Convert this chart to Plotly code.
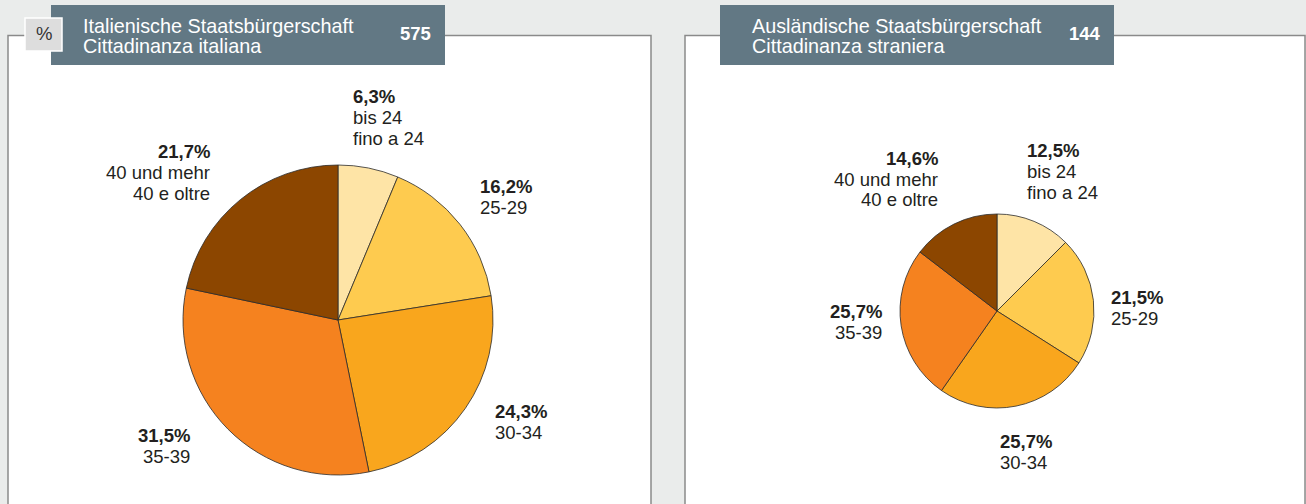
import plotly.graph_objects as go

W, H = 1306, 504

categories_de = ["bis 24", "25-29", "30-34", "35-39", "40 und mehr"]
categories_it = ["fino a 24", "", "", "", "40 e oltre"]
ital_values = [6.3, 16.2, 24.3, 31.5, 21.7]
ausl_values = [12.5, 21.5, 25.7, 25.7, 14.6]
ital_label_txt = ["6,3%", "16,2%", "24,3%", "31,5%", "21,7%"]
ausl_label_txt = ["12,5%", "21,5%", "25,7%", "25,7%", "14,6%"]
titles_de = ["Italienische Staatsbürgerschaft", "Ausländische Staatsbürgerschaft"]
titles_it = ["Cittadinanza italiana", "Cittadinanza straniera"]
totals = ["575", "144"]

colors = ["#fee4a6", "#fecb4f", "#f9a61d", "#f5821f", "#8c4600"]
FONT = "Liberation Sans, Arial, sans-serif"
TXT = "#231f20"
FS = 18.5
HFS = 19.8
LINE = 21
PAD = 2.5


def px(x):
    return x / W


def py(y):
    return 1 - y / H


fig = go.Figure()


def add_pie(values, cx, cy, r):
    fig.add_trace(go.Pie(
        values=values, labels=categories_de, sort=False, direction="clockwise",
        rotation=0, textinfo="none", hoverinfo="label+percent",
        marker=dict(colors=colors, line=dict(color="#2b2b2b", width=0.8)),
        domain=dict(x=[px(cx - r), px(cx + r)], y=[py(cy + r), py(cy - r)]),
        showlegend=False,
    ))


add_pie(ital_values, 338, 320, 155)
add_pie(ausl_values, 997, 311, 97)

shapes = []
# panels
for x0, x1 in [(8, 651), (685, 1305)]:
    shapes.append(dict(type="rect", xref="paper", yref="paper",
                       x0=px(x0), x1=px(x1), y0=py(520), y1=py(35.5),
                       fillcolor="white", line=dict(color="#8a8a8a", width=1.5),
                       layer="below"))
# header boxes
for x0, x1 in [(51, 445), (720, 1114)]:
    shapes.append(dict(type="rect", xref="paper", yref="paper",
                       x0=px(x0), x1=px(x1), y0=py(65), y1=py(5),
                       fillcolor="#627884", line=dict(width=0), layer="below"))
# % box
shapes.append(dict(type="rect", xref="paper", yref="paper",
                   x0=px(25), x1=px(62), y0=py(51), y1=py(18),
                   fillcolor="#dddddd", line=dict(color="white", width=1.5)))

annotations = []


def ann(x, y, text, xanchor="left", size=FS, color=TXT):
    if xanchor == "left":
        x -= PAD
    elif xanchor == "right":
        x += PAD
    annotations.append(dict(x=px(x), y=py(y), xref="paper", yref="paper", text=text,
                            xanchor=xanchor, yanchor="middle", showarrow=False,
                            font=dict(family=FONT, size=size, color=color)))


ann(43.5, 34, "%", xanchor="center", color="#333333")

# header texts
for i, (tx, nx) in enumerate([(83, 430), (752, 1100)]):
    ann(tx, 25.5, titles_de[i], color="white", size=HFS)
    ann(tx, 45.5, titles_it[i], color="white", size=HFS)
    ann(nx, 34, "<b>" + totals[i] + "</b>", xanchor="right", color="white", size=FS)


def add_label(x, y, a, pct, i):
    lines = ["<b>" + pct + "</b>", categories_de[i]]
    if categories_it[i]:
        lines.append(categories_it[i])
    for k, t in enumerate(lines):
        ann(x, y + k * LINE, t, xanchor=a)


# label block positions: (x, first-line centre y, anchor)
left_pos = [(353, 96.5, "left"), (480, 186, "left"), (495, 411, "left"),
            (190, 435, "right"), (209, 151, "right")]
for i, (x, y, a) in enumerate(left_pos):
    add_label(x, y, a, ital_label_txt[i], i)

right_pos = [(1027, 150, "left"), (1111, 297, "left"), (1000, 441, "left"),
             (881, 311, "right"), (937, 158, "right")]
for i, (x, y, a) in enumerate(right_pos):
    add_label(x, y, a, ausl_label_txt[i], i)

fig.update_layout(
    width=W, height=H, margin=dict(l=0, r=0, t=0, b=0),
    paper_bgcolor="#eaeceb", plot_bgcolor="#eaeceb",
    shapes=shapes, annotations=annotations,
)

fig.write_html("out.html", config={"displayModeBar": False},
               post_script="document.body.style.margin='0';"
                           "document.body.style.background='#eaeceb';")
